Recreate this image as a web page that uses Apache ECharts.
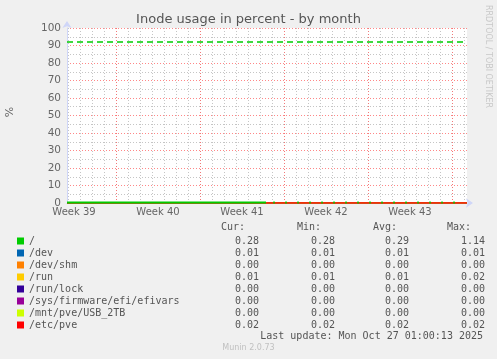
<!DOCTYPE html>
<html><head><meta charset="utf-8">
<script src="https://cdn.jsdelivr.net/npm/echarts@6/dist/echarts.min.js"></script>
<style>html,body{margin:0;padding:0;background:#f0f0f0}#c{width:497px;height:359px}</style>
</head><body><div id="c"></div>
<script>
// ---- data (x in days since Mon 22 Sep 2025) ----
const xMin = 2.9167, xMax = 36.25;
const weekLabels = ['Week 39', 'Week 40', 'Week 41', 'Week 42', 'Week 43'];
const weekLabelDays = [3.5, 10.5, 17.5, 24.5, 31.5];
const weekStartDays = [7, 14, 21, 28, 35];
const warningLevel = 92;

const names = ['/', '/dev', '/dev/shm', '/run', '/run/lock', '/sys/firmware/efi/efivars', '/mnt/pve/USB_2TB', '/etc/pve'];
const colors = ['#00CC00', '#0066B3', '#FF8000', '#FFCC00', '#330099', '#990099', '#CCFF00', '#FF0000'];
const curVals = ['0.28', '0.01', '0.00', '0.01', '0.00', '0.00', '0.00', '0.02'];
const minVals = ['0.28', '0.01', '0.00', '0.01', '0.00', '0.00', '0.00', '0.02'];
const avgVals = ['0.29', '0.01', '0.00', '0.01', '0.00', '0.00', '0.00', '0.02'];
const maxVals = ['1.14', '0.01', '0.00', '0.02', '0.00', '0.00', '0.00', '0.02'];

// "/" continuous part and the later daily samples
const rootLineDays = [2.9167, 8, 14, 19.5];
const rootLineVals = [0.28, 0.28, 0.29, 0.28];
const rootDotDays = [20.17, 21.17, 22.17, 23.17, 24.17, 25.17, 26.17, 27.17, 28.17, 29.17, 30.17, 31.17, 32.17, 33.17, 34.17, 35.17];
const rootDotVals = [0.28, 0.28, 0.28, 0.28, 0.28, 0.28, 0.28, 0.28, 0.28, 0.28, 0.28, 0.28, 0.28, 0.28, 0.28, 0.28];
// other filesystems: flat over the period
const otherDays = [2.9167, 36.25];
const otherVals = [0.01, 0.00, 0.01, 0.00, 0.00, 0.00, 0.02];

const lastUpdate = 'Last update: Mon Oct 27 01:00:13 2025';
const version = 'Munin 2.0.73';

// ---- build ----
const F = 'DejaVu Sans', M = 'DejaVu Sans Mono';
const dayTicks = [];
for (let d = Math.ceil(xMin); d <= xMax; d++) dayTicks.push(d);

const series = [];
for (let i = 1; i < names.length; i++) {
  series.push({
    name: names[i], type: 'line', showSymbol: false, silent: true,
    data: otherDays.map(d => [d, otherVals[i - 1]]),
    lineStyle: { color: colors[i], width: 1.5 }, itemStyle: { color: colors[i] }, z: 2
  });
}
series.push({
  name: names[0], type: 'line', showSymbol: false, silent: true, z: 3,
  data: rootLineDays.map((d, i) => [d, rootLineVals[i]]),
  lineStyle: { color: colors[0], width: 2 }, itemStyle: { color: colors[0] },
  markLine: {
    silent: true, symbol: 'none', label: { show: false },
    lineStyle: { color: colors[0], type: [6, 4], width: 1.5 },
    data: [{ yAxis: warningLevel }]
  }
});
series.push({
  name: names[0], type: 'scatter', silent: true, z: 4,
  symbol: 'rect', symbolSize: [2, 2],
  data: rootDotDays.map((d, i) => [d, rootDotVals[i]]),
  itemStyle: { color: colors[0] }
});

const rich = {
  n: { width: 190, fontFamily: M, fontSize: 10, color: '#555' },
  c: { width: 40, align: 'right', fontFamily: M, fontSize: 10, color: '#555' },
  m: { width: 76, align: 'right', fontFamily: M, fontSize: 10, color: '#555' },
  a: { width: 74, align: 'right', fontFamily: M, fontSize: 10, color: '#555' },
  x: { width: 76, align: 'right', fontFamily: M, fontSize: 10, color: '#555' }
};

const headers = [['Cur:', 221], ['Min:', 297], ['Avg:', 373], ['Max:', 447]];
const graphics = headers.map(h => ({
  type: 'text', left: h[1], top: 222,
  style: { text: h[0], font: '10px ' + M, fill: '#555' }
}));
graphics.push({ type: 'text', right: 14, top: 331, style: { text: lastUpdate, font: '10px ' + M, fill: '#555' } });
graphics.push({ type: 'text', left: 'center', top: 344, style: { text: version, font: '8px ' + F, fill: '#c0c0c0' } });
graphics.push({ type: 'text', x: 488, y: 5, rotation: -Math.PI / 2, style: { text: 'RRDTOOL / TOBI OETIKER', font: '8px ' + F, fill: '#c8c8c8', textVerticalAlign: 'middle' } });
graphics.push({ type: 'text', x: 10, y: 112, rotation: Math.PI / 2, style: { text: '%', font: '11px ' + F, fill: '#666', textAlign: 'center', textVerticalAlign: 'middle' } });

const option = {
  backgroundColor: '#f0f0f0',
  animation: false,
  title: {
    text: 'Inode usage in percent - by month', left: 'center', top: 8,
    textStyle: { fontFamily: F, fontSize: 13, fontWeight: 'normal', color: '#555' }
  },
  grid: { left: 67, right: 30, top: 28, bottom: 156, show: true, backgroundColor: '#ffffff', borderWidth: 0, containLabel: false },
  legend: {
    orient: 'vertical', left: 12, top: 230, itemWidth: 7, itemHeight: 7, itemGap: 0,
    icon: 'rect', selectedMode: false, data: names,
    textStyle: { fontFamily: M, fontSize: 10, color: '#555', lineHeight: 12, rich: rich },
    formatter: function (n) {
      const i = names.indexOf(n);
      return '{n|' + n + '}{c|' + curVals[i] + '}{m|' + minVals[i] + '}{a|' + avgVals[i] + '}{x|' + maxVals[i] + '}';
    }
  },
  xAxis: [
    {
      type: 'value', min: xMin, max: xMax,
      axisLine: { show: true, lineStyle: { color: '#CFD6F8', width: 1 }, symbol: ['none', 'arrow'], symbolSize: [7, 7], symbolOffset: [0, 6] },
      axisTick: { show: false, customValues: weekStartDays },
      axisLabel: {
        show: true, customValues: weekLabelDays, margin: 4,
        fontFamily: F, fontSize: 10, color: '#666',
        formatter: v => weekLabels[weekLabelDays.indexOf(v)]
      },
      splitLine: { show: true, lineStyle: { color: 'rgba(255,95,95,0.75)', type: [1, 2], width: 1 } },
      z: 1
    },
    {
      type: 'value', min: xMin, max: xMax, position: 'bottom',
      axisLine: { show: false }, axisLabel: { show: false },
      axisTick: { show: false, customValues: dayTicks },
      splitLine: { show: true, lineStyle: { color: 'rgba(140,140,140,0.5)', type: [1, 2], width: 1 } },
      z: 0
    }
  ],
  yAxis: {
    type: 'value', min: 0, max: 100, interval: 10,
    axisLine: { show: true, lineStyle: { color: '#CFD6F8', width: 1 }, symbol: ['none', 'arrow'], symbolSize: [7, 7], symbolOffset: [0, 7] },
    axisTick: { show: false },
    axisLabel: { fontFamily: F, fontSize: 10.5, color: '#666', margin: 6 },
    splitLine: { show: true, lineStyle: { color: 'rgba(255,95,95,0.75)', type: [1, 2], width: 1 } },
    minorTick: { show: false, splitNumber: 2 },
    minorSplitLine: { show: true, lineStyle: { color: 'rgba(140,140,140,0.5)', type: [1, 2], width: 1 } }
  },
  series: series,
  graphic: graphics
};
const chart = echarts.init(document.getElementById('c'), null, { renderer: 'canvas' });
chart.setOption(option);
</script></body></html>
